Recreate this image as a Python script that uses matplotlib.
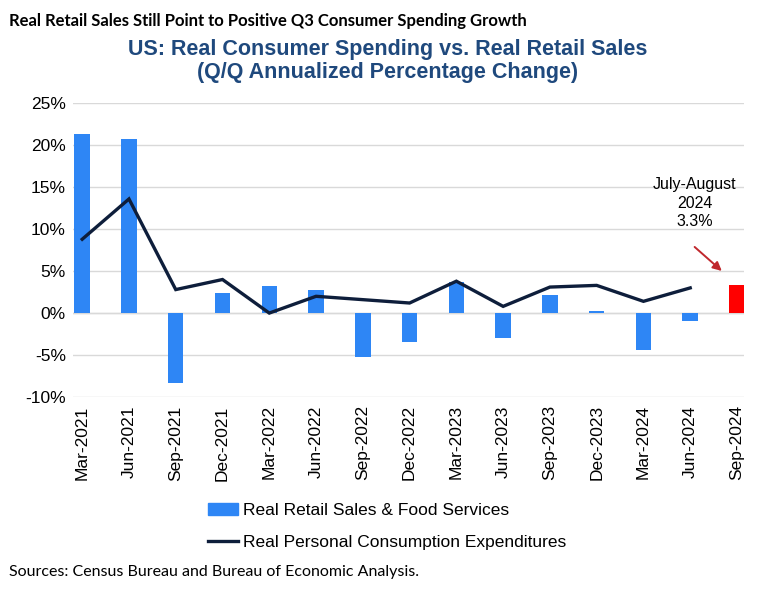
import numpy as np
import matplotlib
matplotlib.use("Agg")
import matplotlib.pyplot as plt
from matplotlib.patches import Patch
from matplotlib.lines import Line2D

# Quarter labels
quarters = ["Mar-2021", "Jun-2021", "Sep-2021", "Dec-2021", "Mar-2022", "Jun-2022",
            "Sep-2022", "Dec-2022", "Mar-2023", "Jun-2023", "Sep-2023", "Dec-2023",
            "Mar-2024", "Jun-2024", "Sep-2024"]
# Real retail sales & food services, Q/Q annualized % (last one is Jul-Aug 2024)
retail = [21.4, 20.7, -8.3, 2.4, 3.2, 2.7, -5.2, -3.4, 3.7, -3.0, 2.1, 0.25, -4.4, -1.0, 3.3]
# Real personal consumption expenditures, Q/Q annualized %
pce = [8.8, 13.6, 2.8, 4.0, 0.0, 2.0, 1.6, 1.2, 3.8, 0.8, 3.1, 3.3, 1.4, 3.0, np.nan]

yticks = [-10, -5, 0, 5, 10, 15, 20, 25]

BLUE = "#2E86F5"
RED = "#FF0000"
NAVY = "#0E1E3B"
GRID = "#D9D9D9"

plt.rcParams["font.family"] = ["Liberation Sans", "DejaVu Sans"]

fig = plt.figure(figsize=(7.75, 5.89), dpi=100)
ax = fig.add_axes([0.094, 0.326, 0.866, 0.4986])

x = np.arange(len(quarters))
colors = [BLUE] * (len(quarters) - 1) + [RED]
ax.bar(x, retail, width=0.33, color=colors, zorder=2)
ax.plot(x, pce, color=NAVY, lw=2.4, zorder=3, solid_joinstyle="miter")

ax.set_ylim(-10, 25)
ax.set_xlim(-0.2, 14.15)
ax.set_yticks(yticks)
ax.set_yticklabels([f"{v}%" for v in yticks], fontsize=12.5)
ax.set_xticks(x)
ax.set_xticklabels(quarters, rotation=90, fontsize=12.5)
ax.tick_params(length=0, pad=5)
ax.tick_params(axis="x", pad=6)
ax.grid(axis="y", color=GRID, lw=1, zorder=0)
ax.axhline(0, color=GRID, lw=1, zorder=1)
for s in ax.spines.values():
    s.set_visible(False)

# annotation for the last bar
ax.annotate("", xy=(13.72, 4.8), xytext=(13.05, 8.1),
            arrowprops=dict(arrowstyle="-|>", color="#C0282D", lw=1.4, mutation_scale=13))
ax.text(13.1, 10.0, "July-August\n2024\n3.3%", ha="center", va="bottom",
        fontsize=11.5, linespacing=1.3)

# legend
handles = [Patch(color=BLUE), Line2D([0], [0], color=NAVY, lw=2.4)]
labels = ["Real Retail Sales & Food Services", "Real Personal Consumption Expenditures"]
fig.legend(handles, labels, loc="upper left", bbox_to_anchor=(0.268, 0.146),
           bbox_transform=fig.transFigure, frameon=False, fontsize=12.5,
           handlelength=1.75, handletextpad=0.3, labelspacing=0.95,
           borderpad=0, borderaxespad=0)

# titles
fig.text(0.012, 0.978, "Real Retail Sales Still Point to Positive Q3 Consumer Spending Growth",
         ha="left", va="top", fontsize=12, fontweight="bold", family=["Lato", "DejaVu Sans"])
fig.text(0.5, 0.896, "US: Real Consumer Spending vs. Real Retail Sales\n(Q/Q Annualized Percentage Change)",
         ha="center", va="center", fontsize=15.5, fontweight="bold", color="#1F497D",
         linespacing=1.15, family=["Liberation Sans Narrow", "Liberation Sans"])
fig.text(0.012, 0.017, "Sources: Census Bureau and Bureau of Economic Analysis.",
         ha="left", va="bottom", fontsize=11.5, family=["Lato", "DejaVu Sans"])

fig.savefig("out.png", dpi=100)
